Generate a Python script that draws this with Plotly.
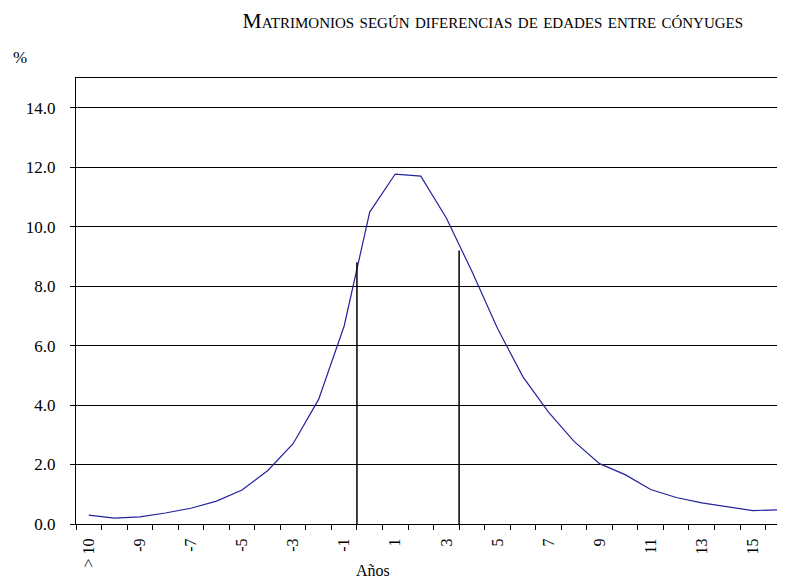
import plotly.graph_objects as go

categories = ["> 10"] + [str(i) for i in range(-10, 17)]
tick_labels = [c if idx % 2 == 0 else "" for idx, c in enumerate(categories)]
values = [0.30, 0.20, 0.24, 0.37, 0.53, 0.77, 1.14, 1.79, 2.70, 4.19,
          6.66, 10.49, 11.77, 11.70, 10.29, 8.50, 6.58, 4.95, 3.76, 2.78,
          2.03, 1.66, 1.16, 0.89, 0.71, 0.58, 0.45, 0.48]
marker_positions = [10.5, 14.5]
marker_heights = [8.8, 9.2]
y_ticks = [0, 2, 4, 6, 8, 10, 12, 14]

FONT = "Liberation Serif"

fig = go.Figure()
fig.add_trace(go.Scatter(x=categories, y=values, mode="lines",
                         line=dict(color="#23239b", width=1.2),
                         hoverinfo="skip", showlegend=False))

for xp, h in zip(marker_positions, marker_heights):
    fig.add_shape(type="line", xref="x", yref="y", x0=xp, x1=xp, y0=0, y1=h,
                  line=dict(color="black", width=1.5))

fig.update_layout(
    width=777, height=572,
    margin=dict(l=68, r=0, t=70, b=56),
    paper_bgcolor="white", plot_bgcolor="white",
    font=dict(family=FONT, color="black", size=16),
    title=dict(text="Matrimonios según diferencias de edades entre cónyuges",
               x=0.624, xanchor="center", y=0.979, yanchor="middle",
               font=dict(family=FONT, size=21.5, variant="small-caps")),
    showlegend=False,
)
fig.update_xaxes(
    type="category", categoryorder="array", categoryarray=categories,
    range=[-0.5, 27.26], automargin=False,
    tickmode="array", tickvals=categories, ticktext=tick_labels,
    tickson="boundaries", ticks="outside", ticklen=5, tickcolor="black",
    tickangle=-90, tickfont=dict(size=16), ticklabelstandoff=7,
    showline=True, linecolor="black", linewidth=1, mirror=True,
    showgrid=False, zeroline=False,
)
fig.update_yaxes(
    range=[0, 15], tickmode="array", tickvals=y_ticks, tickformat=".1f",
    automargin=False, ticklabelstandoff=11,
    ticks="outside", ticklen=5, tickcolor="black", tickfont=dict(size=17),
    showline=True, linecolor="black", linewidth=1,
    showgrid=True, gridcolor="black", gridwidth=1, zeroline=False,
)
fig.add_annotation(text="%", xref="paper", yref="paper", x=-0.0915, y=1.047,
                   xanchor="left", yanchor="middle", showarrow=False,
                   font=dict(size=17))
fig.add_annotation(text="Años", xref="paper", yref="paper", x=0.419, y=-0.105,
                   xanchor="center", yanchor="middle", showarrow=False,
                   font=dict(size=16))

fig.write_html("out.html")
